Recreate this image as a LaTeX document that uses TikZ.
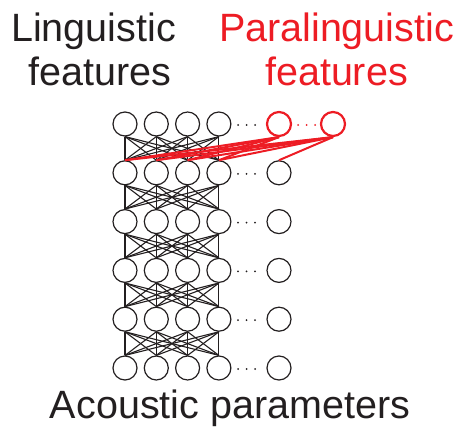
\documentclass[tikz,border=0pt]{standalone}
\usepackage{fontspec}
\setmainfont{Liberation Sans}
\usepackage{xcolor}
\usepackage{tikz}
\usetikzlibrary{positioning}

\definecolor{parared}{RGB}{237,28,36}
\definecolor{inkblack}{RGB}{35,31,32}

\begin{document}
\begin{tikzpicture}[x=1pt,y=1pt,
	unit/.style={circle,draw=inkblack,line width=1.2pt,minimum size=24pt,inner sep=0pt},
	paraunit/.style={unit,draw=parared,line width=2.2pt},
	link/.style={draw=inkblack,line width=1.1pt},
	paralink/.style={draw=parared,line width=2pt},
	labeltext/.style={font=\fontsize{39.5}{44}\selectfont,inner sep=0pt,anchor=base}]

	\useasboundingbox (0,0) rectangle (462,426);

	\node[labeltext,text=inkblack] (ling1) at (93.5,384) {Linguistic};
	\node[labeltext,text=inkblack] (ling2) at (100,340) {features};
	\node[labeltext,text=parared] (para1) at (336.5,384) {Paralinguistic};
	\node[labeltext,text=parared] (para2) at (336.5,340) {features};
	\node[labeltext,text=inkblack] (acou) at (230,8) {Acoustic parameters};

	\foreach \i in {1,...,6} {
		\def \b {302-48.8*(\i-1)}
		\foreach \j in {1,...,4} {
			\def \a {125+31.3*(\j-1)}
			\node[unit] (n-\i-\j) at ({\a},{\b}) {};
		}
		\foreach \a in {238,246.5,255}
			\fill[inkblack] ({\a},{\b-1}) circle (1pt);
	}
	\foreach \i in {2,...,6} {
		\def \b {302-48.8*(\i-1)}
		\node[unit] (e-\i) at (279,{\b}) {};
	}

	\node[paraunit] (p-1) at (279,302) {};
	\node[paraunit] (p-2) at (333,302) {};
	\foreach \a in {298,306.5,315}
		\fill[parared] ({\a},301) circle (1pt);

	\foreach \i in {1,...,5} {
		\pgfmathtruncatemacro \k {\i+1}
		\foreach \j in {1,...,4}
			\foreach \m in {1,...,4}
				\draw[link] (n-\i-\j.south) -- (n-\k-\m.north);
	}

	\foreach \m in {1,...,4} {
		\draw[paralink] (p-1.south) -- (n-2-\m.north);
		\draw[paralink] (p-2.south) -- (n-2-\m.north);
	}
	\draw[paralink] (p-2.south) -- (e-2.north);

\end{tikzpicture}
\end{document}
